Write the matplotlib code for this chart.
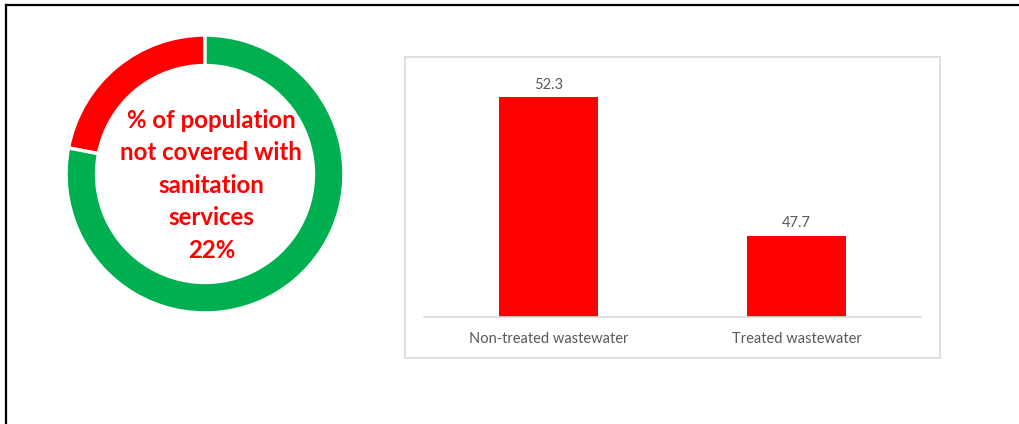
import matplotlib
matplotlib.use("Agg")
import matplotlib.pyplot as plt
from matplotlib.patches import Rectangle
from matplotlib.lines import Line2D

# Sanitation coverage (percent of population)
coverage_labels = ["Not covered", "Covered"]
coverage_values = [22, 78]
coverage_text = "% of population\nnot covered with\nsanitation\nservices\n22%"

# Wastewater share (percent)
ww_categories = ["Non-treated wastewater", "Treated wastewater"]
ww_values = [52.3, 47.7]

RED = "#FF0000"
GREEN = "#00B050"
W, H = 1019, 424
DPI = 100

fig = plt.figure(figsize=(W / DPI, H / DPI), dpi=DPI)
fig.patch.set_facecolor("white")


def px_axes(x0, y0, x1, y1):
    """Axes from pixel box (top-left origin)."""
    return fig.add_axes([x0 / W, 1 - y1 / H, (x1 - x0) / W, (y1 - y0) / H])


# Page frame (top and left rules)
fig.add_artist(Line2D([6 / W, 1], [1 - 5 / H, 1 - 5 / H], color="black", lw=1.6,
                      transform=fig.transFigure))
fig.add_artist(Line2D([6 / W, 6 / W], [0, 1 - 5 / H], color="black", lw=1.6,
                      transform=fig.transFigure))

# Donut
cx, cy, r = 205, 174, 139
half = 150
ax_d = px_axes(cx - half, cy - half, cx + half, cy + half)
ax_d.pie(coverage_values, colors=[RED, GREEN], startangle=90, counterclock=True,
         radius=1.0, wedgeprops=dict(width=0.22, edgecolor="white", linewidth=2.5))
lim = half / r
ax_d.set_xlim(-lim, lim)
ax_d.set_ylim(-lim, lim)
ax_d.set_aspect("equal")
ax_d.axis("off")
ax_d.text(0.045, -0.08, coverage_text, ha="center", va="center", color=RED,
          fontsize=17.3, fontweight="bold", family=["Lato", "DejaVu Sans"],
          linespacing=1.5)

# Bar chart frame
fig.add_artist(Rectangle((405 / W, 1 - 358 / H), (940 - 405) / W, (358 - 57) / H,
                         transform=fig.transFigure, fill=False,
                         edgecolor="#D9D9D9", lw=1.2))

ax_b = px_axes(424, 76, 921, 317)
x = range(len(ww_values))
bars = ax_b.bar(x, ww_values, width=0.4, color=RED)
ax_b.set_xlim(-0.5, len(ww_values) - 0.5)
ax_b.set_ylim(45, 53)
for b, v in zip(bars, ww_values):
    ax_b.annotate(f"{v:.1f}", (b.get_x() + b.get_width() / 2, v),
                  xytext=(0, 4), textcoords="offset points", ha="center",
                  va="bottom", color="#595959", fontsize=10.5,
                  family=["Lato", "DejaVu Sans"])
ax_b.set_xticks(list(x))
ax_b.set_xticklabels(ww_categories, color="#595959", fontsize=10.5,
                     family=["Lato", "DejaVu Sans"])
ax_b.tick_params(axis="x", length=0, pad=11)
ax_b.set_yticks([])
for side in ["top", "left", "right"]:
    ax_b.spines[side].set_visible(False)
ax_b.spines["bottom"].set_color("#D9D9D9")
ax_b.spines["bottom"].set_linewidth(1.2)

fig.savefig("out.png", dpi=DPI, facecolor="white")
